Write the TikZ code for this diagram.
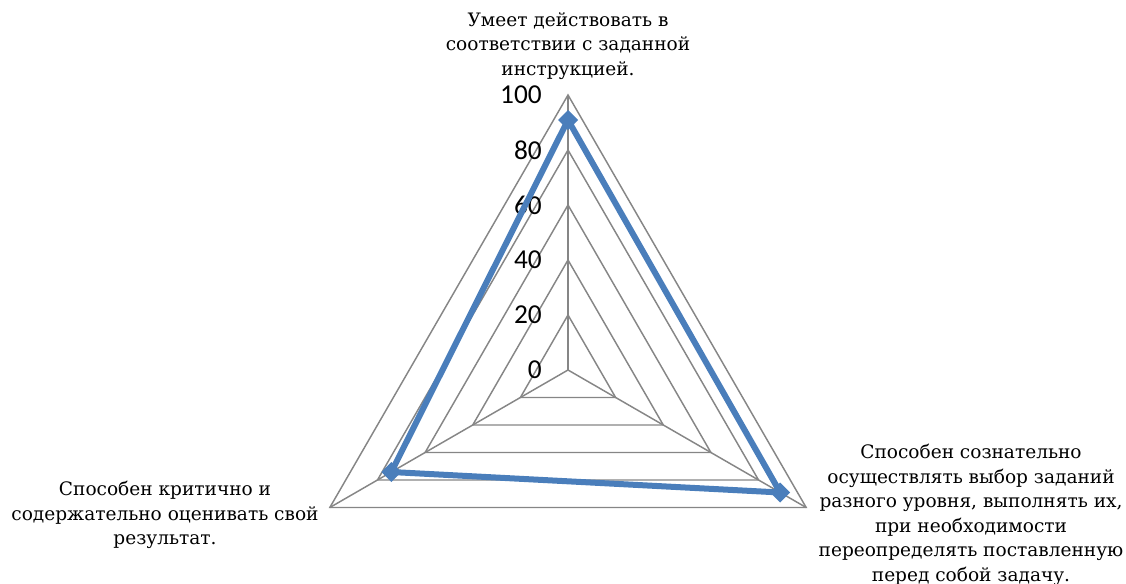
\documentclass[tikz,border=0pt]{standalone}
\usepackage{fontspec}
\setmainfont{DejaVu Serif}
\newfontfamily\numfont{Carlito}
\usetikzlibrary{positioning}

\definecolor{gridgray}{RGB}{134,134,134}
\definecolor{seriesblue}{RGB}{74,126,187}

\tikzset{
  gridline/.style={gridgray, line width=1.1pt},
  catlabel/.style={align=center, font=\fontsize{13.9}{18.4}\selectfont, inner sep=0pt},
  ticklabel/.style={font=\numfont\fontsize{20.5}{22}\selectfont, anchor=east, inner sep=0pt},
  marker/.style={fill=seriesblue, draw=none}
}

\begin{document}
\begin{tikzpicture}[x=0.75pt,y=-0.75pt]
\useasboundingbox (0,0) rectangle (1126,584);

% centre of the chart
\coordinate (O) at (568,370);

% draw grid triangles
\foreach \r in {55,110,165,220,275}
\draw[gridline, shift={(O)}] (-90:\r) -- (30:\r) -- (150:\r) -- cycle;

% draw spokes
\foreach \a in {-90,30,150}
\draw[gridline] (O) -- ++(\a:275);

% tick values
\foreach \v in {0,20,40,60,80,100}
\node[ticklabel] (tick\v) at (542,{370-2.75*\v}) {\v};

% data points
\path[shift={(O)}] (-90:250) coordinate (pTop)
  (30:245) coordinate (pRight)
  (150:204) coordinate (pLeft);

% data line
\draw[seriesblue, line width=4.5pt, line join=round]
(pTop) -- (pRight) -- (pLeft) -- cycle;

% markers
\foreach \p in {pTop,pRight,pLeft}
\fill[marker] (\p) +(-90:10) -- +(0:10) -- +(90:10) -- +(180:10) -- cycle;

% category labels
\node[catlabel] (labelTop) at (568,46)
{Умеет действовать в\\соответствии с заданной\\инструкцией.};
\node[catlabel] (labelRight) at (971,515)
{Способен сознательно\\осуществлять выбор заданий\\разного уровня, выполнять их,\\при необходимости\\переопределять поставленную\\перед собой задачу.};
\node[catlabel] (labelLeft) at (165,515)
{Способен критично и\\содержательно оценивать свой\\результат.};
\end{tikzpicture}
\end{document}
